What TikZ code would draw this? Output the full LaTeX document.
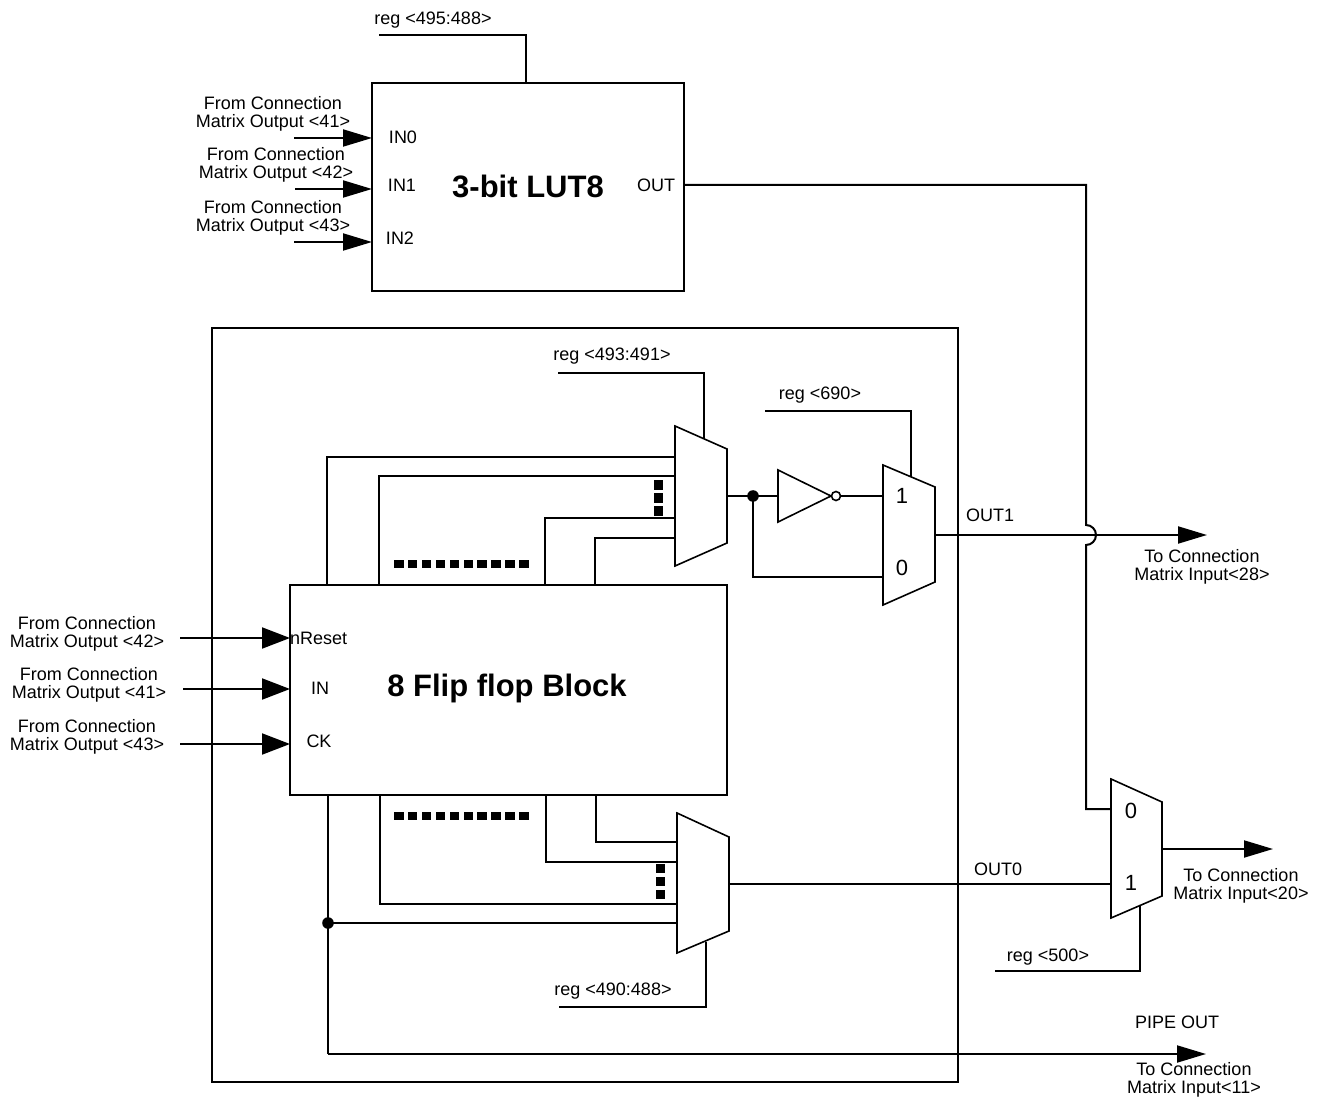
\documentclass[tikz,border=0pt]{standalone}
\usepackage{fontspec}
\setmainfont{Liberation Sans}
\usetikzlibrary{arrows.meta}
\tikzset{
  wire/.style={line width=2pt},
  muxbox/.style={line width=1.6pt, line join=miter},
  boxline/.style={line width=2pt},
  lbl/.style={font=\fontsize{18}{18}\selectfont, align=center, inner sep=0pt},
  title/.style={font=\fontsize{31}{31}\selectfont\bfseries, inner sep=0pt},
  sel/.style={font=\fontsize{22}{22}\selectfont, inner sep=0pt},
  arr/.style={wire, -{Triangle[length=29pt,width=17pt]}},
  arrbig/.style={wire, -{Triangle[length=28pt,width=21pt]}},
  sq/.style={fill=black}
}
\begin{document}
\begin{tikzpicture}[x=1pt,y=-1pt]
\useasboundingbox (0,0) rectangle (1326,1099);

% ---------- LUT ----------
\draw[boxline] (372,83) rectangle (684,291);
\coordinate (lutIN0) at (372,138);
\coordinate (lutIN1) at (372,189);
\coordinate (lutIN2) at (372,242);
\coordinate (lutOUT) at (684,185);
\coordinate (lutSel) at (526,83);
\coordinate (lutSelEnd) at (379,35);
\node[title] (luttitle) at (528,186) {3-bit LUT8};
\node[lbl] (in0) at (403,137) {IN0};
\node[lbl] (in1) at (402,185) {IN1};
\node[lbl] (in2) at (400,238) {IN2};
\node[lbl] (outl) at (656,185) {OUT};
\node[lbl] (reg495) at (433,20) {reg <495:488>};
\draw[wire] (lutSelEnd) -- (lutSel |- lutSelEnd) -- (lutSel);

\coordinate (a0) at (294,138);
\coordinate (a1) at (295,189);
\coordinate (a2) at (294,242);
\draw[arr] (a0) -- (lutIN0);
\draw[arr] (a1) -- (lutIN1);
\draw[arr] (a2) -- (lutIN2);
\node[lbl] (l41) at (273,114) {From Connection\\Matrix Output <41>};
\node[lbl] (l42) at (276,165) {From Connection\\Matrix Output <42>};
\node[lbl] (l43) at (273,218) {From Connection\\Matrix Output <43>};

% ---------- outer box ----------
\draw[boxline] (212,328) rectangle (958,1082);

% ---------- FF block ----------
\draw[boxline] (290,585) rectangle (727,795);
\node[title] (fftitle) at (507,688) {8 Flip flop Block};
\node[lbl, anchor=west] (nres) at (290,638) {nReset};
\node[lbl] (ffin) at (320,688) {IN};
\node[lbl] (ffck) at (319,741) {CK};
\coordinate (ffR) at (290,638);
\coordinate (ffI) at (290,689);
\coordinate (ffC) at (290,744);
\draw[arrbig] (180,638) -- (ffR);
\draw[arrbig] (183,689) -- (ffI);
\draw[arrbig] (180,744) -- (ffC);
\node[lbl] (f42) at (87,634) {From Connection\\Matrix Output <42>};
\node[lbl] (f41) at (89,685) {From Connection\\Matrix Output <41>};
\node[lbl] (f43) at (87,737) {From Connection\\Matrix Output <43>};

% ---------- upper mux A ----------
\draw[muxbox] (675,426) -- (727,449) -- (727,543) -- (675,566) -- cycle;
\coordinate (muxAout) at (727,496);
\draw[wire] (327,585) -- (327,457) -- (675,457);
\draw[wire] (379,585) -- (379,476) -- (675,476);
\draw[wire] (545,585) -- (545,518) -- (675,518);
\draw[wire] (595,585) -- (595,538) -- (675,538);
\foreach \k in {0,1,2} \fill[sq] (654,480+13*\k) rectangle (663,490+13*\k);
\foreach \k in {0,...,9} \fill[sq] (394+13.9*\k,560) rectangle (403.5+13.9*\k,568);
\node[lbl] (reg493) at (612,356) {reg <493:491>};
\draw[wire] (558,373) -- (704,373) -- (704,439);

% junction + inverter
\coordinate (jn) at (753,496);
\fill (jn) circle[radius=5.8pt];
\draw[wire] (muxAout) -- (jn) -- (778,496);
\draw[muxbox] (778,470) -- (831,496) -- (778,522) -- cycle;
\draw[line width=1.6pt, fill=white] (836,496) circle[radius=4.5pt];
\draw[wire] (840.5,496) -- (883,496);
\draw[wire] (jn) -- (753,577) -- (883,577);

% ---------- mux B ----------
\draw[muxbox] (883,465) -- (935,487) -- (935,582) -- (883,605) -- cycle;
\node[sel] (b1) at (902,496) {1};
\node[sel] (b0) at (902,568) {0};
\node[lbl] (reg690) at (820,395) {reg <690>};
\draw[wire] (765,411) -- (911,411) -- (911,477);
\node[lbl] (out1) at (990,515) {OUT1};
\coordinate (out1end) at (1207,535);
\draw[arr] (935,535) -- (out1end);
\node[lbl] (t28) at (1202,567) {To Connection\\Matrix Input<28>};

% LUT out wire with hop
\draw[wire] (lutOUT) -- (1086,185) -- (1086,525)
  arc[start angle=90, end angle=-90, radius=10pt] -- (1086,809) -- (1111,809);

% ---------- lower mux C ----------
\draw[muxbox] (677,813) -- (729,837) -- (729,931) -- (677,953) -- cycle;
\draw[wire] (596,795) -- (596,842) -- (677,842);
\draw[wire] (546,795) -- (546,862) -- (677,862);
\draw[wire] (380,795) -- (380,904) -- (677,904);
\coordinate (jd) at (328,923);
\draw[wire] (328,795) -- (328,1054);
\fill (jd) circle[radius=5.8pt];
\draw[wire] (jd) -- (677,923);
\foreach \k in {0,1,2} \fill[sq] (656,864.3+13*\k) rectangle (665,873.3+13*\k);
\foreach \k in {0,...,9} \fill[sq] (394+13.9*\k,812) rectangle (403.5+13.9*\k,819.5);
\draw[wire] (706,942) -- (706,1007) -- (559,1007);
\node[lbl] (reg490) at (613,991) {reg <490:488>};

% OUT0
\draw[wire] (729,884) -- (1111,884);
\node[lbl] (out0) at (998,869) {OUT0};

% ---------- mux D ----------
\draw[muxbox] (1111,779) -- (1162,802) -- (1162,896) -- (1111,918) -- cycle;
\node[sel] (d0) at (1131,811) {0};
\node[sel] (d1) at (1131,883) {1};
\draw[arr] (1162,849) -- (1273,849);
\node[lbl] (t20) at (1241,886) {To Connection\\Matrix Input<20>};
\draw[wire] (1140,905) -- (1140,971) -- (995,971);
\node[lbl] (reg500) at (1048,957) {reg <500>};

% ---------- pipe out ----------
\draw[arr] (328,1054) -- (1206,1054);
\node[lbl] (pipe) at (1177,1022) {PIPE OUT};
\node[lbl] (t11) at (1194,1080) {To Connection\\Matrix Input<11>};
\end{tikzpicture}
\end{document}
